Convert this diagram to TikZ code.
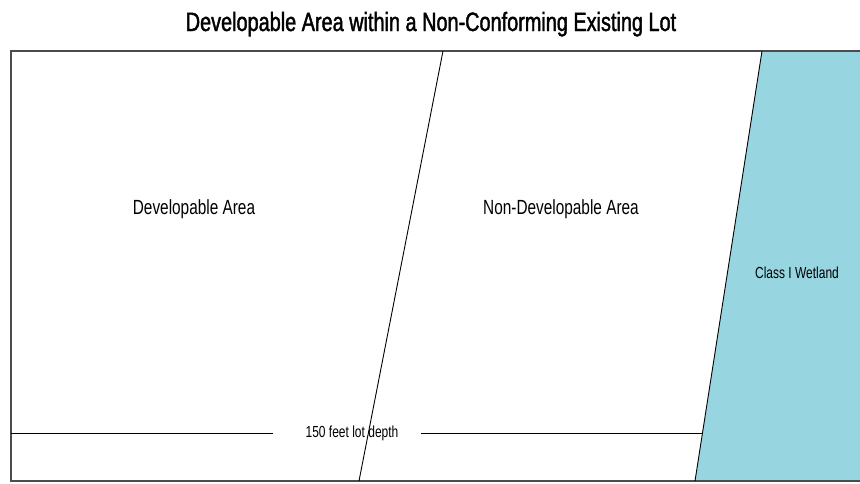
\documentclass[tikz,border=0pt]{standalone}
\usepackage{fontspec}
\setmainfont[FakeStretch=0.75]{Liberation Sans}
\newfontfamily\titlefont[FakeStretch=0.75,FakeBold=1.5]{Liberation Sans}
\definecolor{wet}{HTML}{97D6E0}
\begin{document}
\begin{tikzpicture}[x=1pt,y=-1pt,
  lbl/.style={inner sep=0pt,font=\fontsize{20.5}{23}\selectfont},
  small/.style={inner sep=0pt,font=\fontsize{16}{18}\selectfont},
  border/.style={draw=black!70,line width=1.2pt},
  edge/.style={draw=black,line width=0.9pt}]
\useasboundingbox (0,0) rectangle (860,483);
% wetland
\coordinate (wtop) at (762,51);
\coordinate (wbot) at (695,481);
\coordinate (dtop) at (443,51);
\coordinate (dbot) at (359,481);
\fill[wet] (wtop) -- (860,51) -- (860,481) -- (wbot) -- cycle;
% lot border
\draw[border] (860,51) -- (11,51) -- (11,481) -- (860,481);
% slanted lines
\draw[edge] (dtop) -- (dbot);
\draw[edge] (wtop) -- (wbot);
% title
\node[inner sep=0pt,anchor=base,font=\titlefont\fontsize{26.5}{29}\selectfont] (title) at (431,31) {Developable Area within a Non-Conforming Existing Lot};
% area labels
\node[lbl] (dev) at (194,209) {Developable Area};
\node[lbl] (nondev) at (561,209) {Non-Developable Area};
\node[small] (wl) at (797,273) {Class I Wetland};
% dimension
\node[small] (dim) at (352,433) {150 feet lot depth};
\coordinate (dl) at (11,433);
\coordinate (dr) at (703,433);
\draw[edge,line width=0.8pt] (dl) -- (273,433);
\draw[edge,line width=0.8pt] (421,433) -- (dr);
\end{tikzpicture}
\end{document}
